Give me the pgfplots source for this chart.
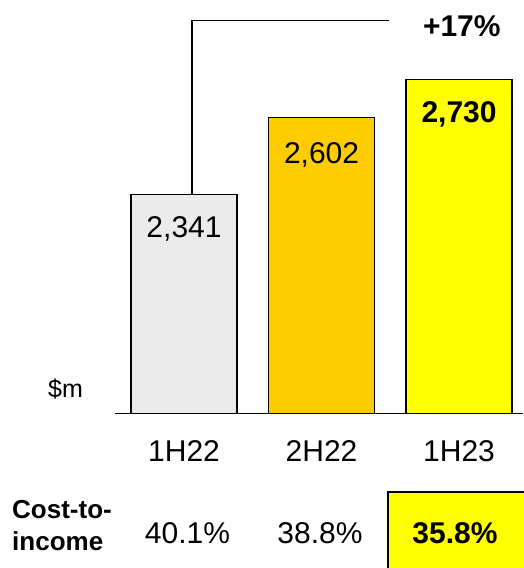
\documentclass[border=0pt]{standalone}
\usepackage{pgfplots}
\pgfplotsset{compat=1.18}
\usepackage{fontspec}
\setmainfont{Liberation Sans}
\definecolor{barA}{HTML}{EBEBEB}
\definecolor{barB}{HTML}{FFCC00}
\definecolor{barC}{HTML}{FFFF00}
\newcommand{\bigsz}{\fontsize{30}{36}\selectfont}
\begin{document}
\begin{tikzpicture}
\begin{axis}[
  at={(0pt,0pt)}, anchor=south west,
  scale only axis, width=408pt, height=413.6pt,
  xmin=-0.502, xmax=2.465, ymin=1600, ymax=3000,
  ybar, bar width=106pt, bar shift=0pt,
  axis x line=bottom, axis y line=none,
  x axis line style={-, line width=1.3pt},
  xtick={0,1,2}, xticklabels={1H22,2H22,1H23},
  major tick length=0pt, ytick=\empty,
  xticklabel style={font=\bigsz, anchor=base, yshift=-48pt},
  clip=false,
  nodes near coords, point meta=explicit symbolic,
  every node near coord/.append style={font=\bigsz, anchor=base, yshift=-43pt},
]
\addplot[fill=barA, draw=black, line width=1.3pt] coordinates {(0,2341) [2,341]};
\addplot[fill=barB, draw=black, line width=1.3pt,
  every node near coord/.append style={yshift=-3pt}] coordinates {(1,2602) [2,602]};
\addplot[fill=barC, draw=black, line width=1.3pt,
  every node near coord/.append style={font=\bfseries\bigsz}] coordinates {(2,2730) [2,730]};
\draw[line width=1.3pt] (axis cs:0.058,2341) |- (axis cs:1.49,2931);
\node[font=\bfseries\bigsz, anchor=base] at (axis cs:2.02,2875) {+17\%};
\node[font=\fontsize{25}{30}\selectfont, anchor=base] at (axis cs:-0.862,1653) {\$m};
\end{axis}
% cost-to-income row under the chart
\draw[fill=barC, line width=1.3pt] (273pt,-78.4pt) rectangle (430pt,-180pt);
\node[font=\bfseries\fontsize{26}{30}\selectfont, anchor=base west, inner sep=0pt] at (-103pt,-104.4pt) {Cost-to-};
\node[font=\bfseries\fontsize{26}{30}\selectfont, anchor=base west, inner sep=0pt] at (-103pt,-136.4pt) {income};
\node[font=\bigsz, anchor=base] at (72.5pt,-129.4pt) {40.1\%};
\node[font=\bigsz, anchor=base] at (205pt,-129.4pt) {38.8\%};
\node[font=\bfseries\bigsz, anchor=base] at (340pt,-129.4pt) {35.8\%};
\pgfresetboundingbox
\path[use as bounding box] (-115pt,-154.4pt) rectangle (408pt,413.6pt);
\end{tikzpicture}
\end{document}
